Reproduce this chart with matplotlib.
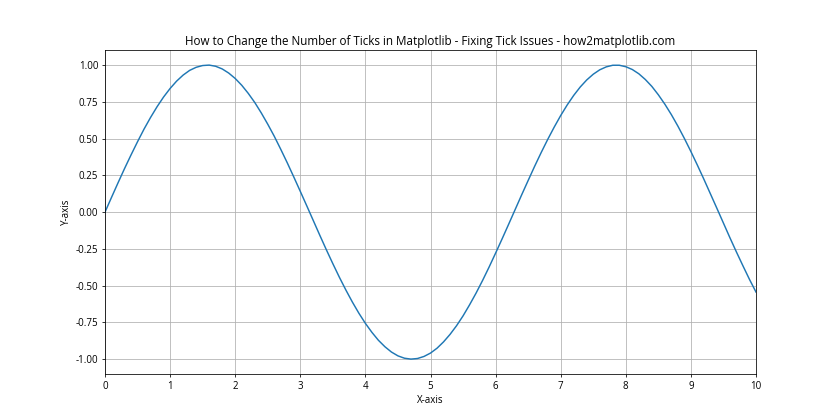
import matplotlib.pyplot as plt

plt.rcParams['font.family'] = ['Open Sans', 'DejaVu Sans']
plt.rcParams['axes.unicode_minus'] = False

# curve values, x step 0.1
x = [0.0, 0.1, 0.2, 0.3, 0.4, 0.5, 0.6, 0.7, 0.8, 0.9,
     1.0, 1.1, 1.2, 1.3, 1.4, 1.5, 1.6, 1.7, 1.8, 1.9,
     2.0, 2.1, 2.2, 2.3, 2.4, 2.5, 2.6, 2.7, 2.8, 2.9,
     3.0, 3.1, 3.2, 3.3, 3.4, 3.5, 3.6, 3.7, 3.8, 3.9,
     4.0, 4.1, 4.2, 4.3, 4.4, 4.5, 4.6, 4.7, 4.8, 4.9,
     5.0, 5.1, 5.2, 5.3, 5.4, 5.5, 5.6, 5.7, 5.8, 5.9,
     6.0, 6.1, 6.2, 6.3, 6.4, 6.5, 6.6, 6.7, 6.8, 6.9,
     7.0, 7.1, 7.2, 7.3, 7.4, 7.5, 7.6, 7.7, 7.8, 7.9,
     8.0, 8.1, 8.2, 8.3, 8.4, 8.5, 8.6, 8.7, 8.8, 8.9,
     9.0, 9.1, 9.2, 9.3, 9.4, 9.5, 9.6, 9.7, 9.8, 9.9,
     10.0]
y = [0.000, 0.100, 0.199, 0.296, 0.389, 0.479, 0.565, 0.644, 0.717, 0.783,
     0.841, 0.891, 0.932, 0.964, 0.985, 0.997, 1.000, 0.992, 0.974, 0.946,
     0.909, 0.863, 0.808, 0.746, 0.675, 0.598, 0.516, 0.427, 0.335, 0.239,
     0.141, 0.042, -0.058, -0.158, -0.256, -0.351, -0.443, -0.530, -0.612, -0.688,
     -0.757, -0.818, -0.872, -0.916, -0.952, -0.978, -0.994, -1.000, -0.996, -0.982,
     -0.959, -0.926, -0.883, -0.832, -0.773, -0.706, -0.631, -0.551, -0.465, -0.374,
     -0.279, -0.182, -0.083, 0.017, 0.117, 0.215, 0.312, 0.405, 0.494, 0.578,
     0.657, 0.729, 0.794, 0.851, 0.899, 0.938, 0.968, 0.988, 0.999, 0.999,
     0.989, 0.970, 0.941, 0.902, 0.855, 0.798, 0.734, 0.663, 0.585, 0.501,
     0.412, 0.319, 0.223, 0.124, 0.025, -0.075, -0.175, -0.272, -0.366, -0.458,
     -0.544]
x_ticks = [0, 1, 2, 3, 4, 5, 6, 7, 8, 9, 10]
y_ticks = [-1.0, -0.75, -0.5, -0.25, 0.0, 0.25, 0.5, 0.75, 1.0]

fig, ax = plt.subplots(figsize=(12, 6), dpi=70)
ax.plot(x, y, color='#1f77b4', linewidth=1.5)
ax.set_xlim(0, 10)
ax.set_xticks(x_ticks)
ax.set_yticks(y_ticks)
ax.set_yticklabels([f"{v:.2f}" for v in y_ticks])
ax.grid(True)
ax.set(title="How to Change the Number of Ticks in Matplotlib - Fixing Tick Issues - how2matplotlib.com",
       xlabel="X-axis", ylabel="Y-axis")
fig.savefig("out.png", dpi=70)
